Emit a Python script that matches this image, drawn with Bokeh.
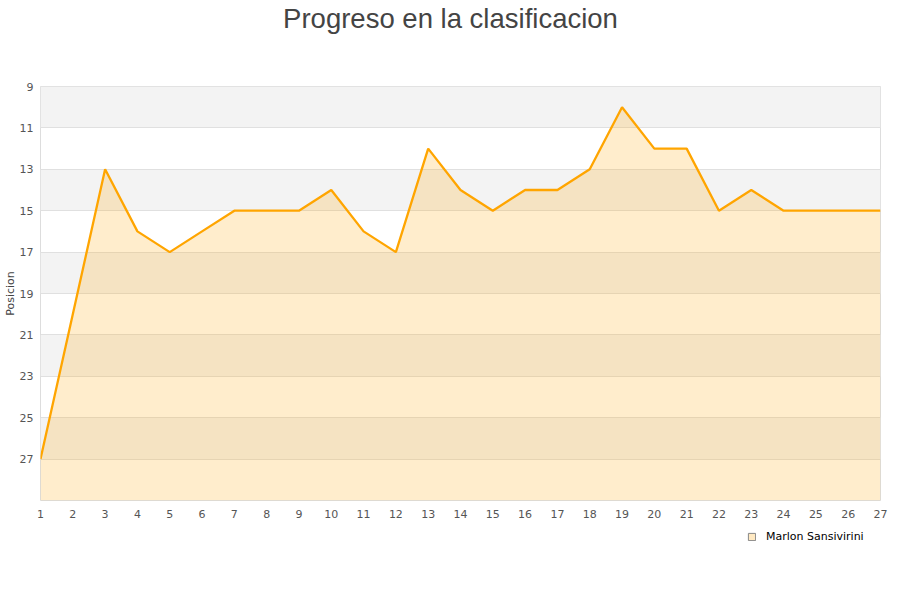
from bokeh.plotting import figure
from bokeh.models import Range1d, FixedTicker, Legend, LegendItem, Label, ColumnDataSource
from bokeh.layouts import column
from bokeh.embed import file_html
from bokeh.resources import INLINE

jornadas = list(range(1, 28))
posiciones = [27, 20, 13, 16, 17, 16, 15, 15, 15, 14, 16, 17, 12, 14, 15, 14, 14, 13, 10, 12, 12, 15, 14, 15, 15, 15, 15]
y_ticks = [9, 11, 13, 15, 17, 19, 21, 23, 25, 27]
y_min, y_max = 9, 29
series_name = "Marlon Sansivirini"
title_text = "Progreso en la clasificacion"
y_label = "Posicion"

W = 900
FRAME_LEFT = 40  # the column aligns every child's frame with the chart's frame


def blank(h):
    f = figure(width=W, height=h, output_backend="svg", toolbar_location=None,
               x_axis_location=None, y_axis_location=None,
               x_range=Range1d(0, 1), y_range=Range1d(0, 1),
               min_border=0, min_border_left=0, min_border_right=0,
               min_border_top=0, min_border_bottom=0)
    f.outline_line_color = None
    f.grid.visible = False
    return f


# --- title strip
head = blank(66)
head.add_layout(Label(x=W / 2 - FRAME_LEFT, y=48, x_units="screen", y_units="screen", text=title_text,
                      text_align="center", text_baseline="alphabetic",
                      text_font="Liberation Sans", text_font_size="27.5px",
                      text_color="#444444"))

# --- main chart
src = ColumnDataSource(dict(x=jornadas, y=posiciones, base=[y_max] * len(jornadas)))
band_starts = y_ticks[::2]
band_src = ColumnDataSource(dict(y=[b + 1 for b in band_starts]))

p = figure(width=W, height=460, output_backend="svg", toolbar_location=None,
           x_range=Range1d(1, 27), y_range=Range1d(y_max, y_min),
           min_border_left=FRAME_LEFT, min_border_right=20, min_border_top=20, min_border_bottom=26)
p.background_fill_color = "white"
p.outline_line_color = "#dddddd"

p.hbar(y="y", height=2, left=jornadas[0], right=jornadas[-1], source=band_src,
       fill_color="#f3f3f3", line_color=None, level="image")
p.varea(x="x", y1="y", y2="base", source=src, fill_color="orange", fill_alpha=0.2)
p.line(x="x", y="y", source=src, line_color="#ffa500", line_width=2.3)

p.xaxis.ticker = FixedTicker(ticks=jornadas)
p.yaxis.ticker = FixedTicker(ticks=y_ticks)
for ax in (p.xaxis[0], p.yaxis[0]):
    ax.axis_line_color = None
    ax.major_tick_line_color = None
    ax.minor_tick_line_color = None
    ax.major_tick_out = 0
    ax.major_tick_in = 0
    ax.major_label_text_font = "DejaVu Sans"
    ax.major_label_text_font_size = "11px"
    ax.major_label_text_color = "#555555"
p.xaxis.major_label_standoff = 9
p.yaxis.major_label_standoff = 7
p.yaxis.axis_label = y_label
p.yaxis.axis_label_text_font = "DejaVu Sans"
p.yaxis.axis_label_text_font_size = "11px"
p.yaxis.axis_label_text_font_style = "normal"
p.yaxis.axis_label_text_color = "#444444"
p.yaxis.axis_label_standoff = 0

p.xgrid.grid_line_color = None
p.ygrid.ticker = FixedTicker(ticks=y_ticks)
p.ygrid.grid_line_color = "#e0e0e0"

# --- legend strip (swatch renderer sits outside the strip's visible range)
foot = blank(74)
swatch = foot.quad(left=[5], right=[6], top=[6], bottom=[5],
                   fill_color="#ffe9c2", line_color="#888888")
legend = Legend(items=[LegendItem(label=series_name, renderers=[swatch])],
                location=(747 - FRAME_LEFT, 57), orientation="horizontal",
                glyph_width=9, glyph_height=9, label_height=12, label_width=10,
                label_text_font="DejaVu Sans", label_text_font_size="11px",
                label_text_color="#000000", label_text_baseline="middle",
                border_line_color=None, background_fill_alpha=0, padding=0, margin=0,
                label_standoff=10)
foot.add_layout(legend, "center")

layout = column(head, p, foot)
open("out.html", "w").write(file_html(layout, INLINE))
